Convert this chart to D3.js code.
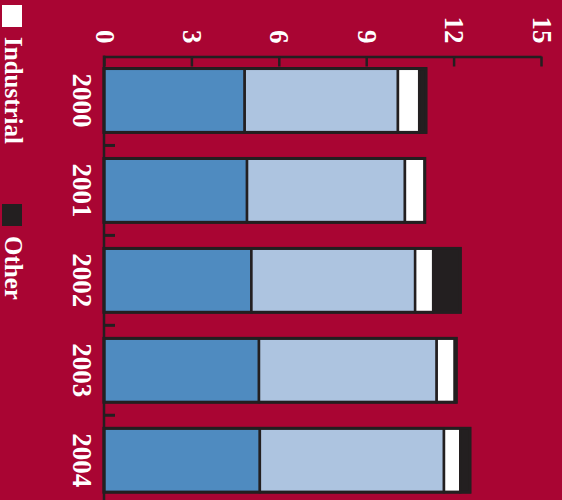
<!DOCTYPE html>
<html>
<head>
<meta charset="utf-8">
<script src="https://cdn.jsdelivr.net/npm/d3@7"></script>
<style>
  html, body { margin: 0; padding: 0; background: #a90533; }
  svg { display: block; }
</style>
</head>
<body>
<div id="chart"></div>
<script>
// data (chart is drawn turned a quarter turn clockwise)
const years = ['2000', '2001', '2002', '2003', '2004']
const seriesNames = ['Residential', 'Commercial', 'Industrial', 'Other']
const residential = [4.83, 4.91, 5.06, 5.32, 5.35]
const commercial = [5.26, 5.42, 5.62, 6.10, 6.32]
const industrial = [0.73, 0.68, 0.62, 0.62, 0.56]
const other = [0.23, 0.0, 0.93, 0.05, 0.33]
const xTicks = [0, 3, 6, 9, 12, 15]

const width = 562
const height = 500
const colors = {
    Residential: '#4f8bc0', Commercial: '#adc4e0',
    Industrial: '#ffffff', Other: '#231f20'
}
const dark = '#231f20'
const font = '"Liberation Serif", "Times New Roman", serif'

const rows = years.map((yr, i) => ({
    year: yr,
    Residential: residential[i],
    Commercial: commercial[i],
    Industrial: industrial[i],
    Other: other[i]
}))

const svg = d3.select('#chart').append('svg')
    .attr('width', width)
    .attr('height', height)

svg.append('rect')
    .attr('width', width).attr('height', height)
    .attr('fill', '#a90533')

const x = d3.scaleLinear().domain([0, 15]).range([104, 541])
const y = d3.scaleBand().domain(years)
    .range([55.5, 505.2])
    .paddingInner(0.29)
    .paddingOuter(0.145)

const stack = d3.stack().keys(seriesNames)(rows)

// bars
const layers = svg.append('g').selectAll('g')
    .data(stack)
    .enter().append('g')
    .attr('fill', d => colors[d.key])

layers.selectAll('rect')
    .data(d => d)
    .enter().append('rect')
    .attr('x', d => x(d[0]))
    .attr('y', d => y(d.data.year))
    .attr('width', d => x(d[1]) - x(d[0]))
    .attr('height', y.bandwidth())
    .attr('stroke', dark)
    .attr('stroke-width', 2.5)

// outline round each whole bar
svg.append('g').selectAll('rect')
    .data(rows)
    .enter().append('rect')
    .attr('x', x(0))
    .attr('y', d => y(d.year))
    .attr('width', d => x(d3.sum(seriesNames, k => d[k])) - x(0))
    .attr('height', y.bandwidth())
    .attr('fill', 'none')
    .attr('stroke', dark)
    .attr('stroke-width', 3)

// value axis along the top
const xAxis = svg.append('g')
    .attr('transform', 'translate(0,56.5)')
    .call(d3.axisTop(x).tickValues(xTicks).tickSizeInner(-10).tickSizeOuter(0))
xAxis.select('.domain').attr('stroke', dark).attr('stroke-width', 2.5)
xAxis.selectAll('.tick line').attr('stroke', dark).attr('stroke-width', 2.5)
xAxis.selectAll('.tick text')
    .attr('y', null).attr('dy', null)
    .attr('transform', 'translate(0,-13) rotate(90)')
    .attr('text-anchor', 'end')
    .attr('dominant-baseline', 'central')
    .attr('fill', '#fff')
    .style('font-family', font)
    .style('font-weight', 'bold')
    .style('font-size', '27px')

// category axis on the left, ticks between the bars
const step = y.step()
const gap = step - y.bandwidth()
svg.append('line')
    .attr('x1', x(0)).attr('x2', x(0))
    .attr('y1', 55.5).attr('y2', height)
    .attr('stroke', dark).attr('stroke-width', 2.5)

svg.append('g').selectAll('line')
    .data(years.slice(0, -1))
    .enter().append('line')
    .attr('x1', x(0)).attr('x2', x(0) + 11)
    .attr('y1', d => y(d) + y.bandwidth() + gap / 2)
    .attr('y2', d => y(d) + y.bandwidth() + gap / 2)
    .attr('stroke', dark).attr('stroke-width', 3)

svg.append('g').selectAll('text')
    .data(years)
    .enter().append('text')
    .attr('transform', d => `translate(73,${y(d) + y.bandwidth() / 2}) rotate(90)`)
    .attr('text-anchor', 'middle')
    .attr('fill', '#fff')
    .style('font-family', font)
    .style('font-weight', 'bold')
    .style('font-size', '27px')
    .text(d => d)

// legend (first entries fall above the visible area)
const legendStep = 199
const legendItems = seriesNames
    .map((name, i) => ({ name, top: 5 + (i - 2) * legendStep }))
    .filter(d => d.top >= 0)

const legend = svg.append('g').selectAll('g')
    .data(legendItems)
    .enter().append('g')

legend.append('rect')
    .attr('x', 2).attr('y', d => d.top)
    .attr('width', 20).attr('height', 22)
    .attr('fill', d => colors[d.name])

legend.append('text')
    .attr('transform', d => `translate(5,${d.top + 32}) rotate(90)`)
    .attr('fill', '#fff')
    .style('font-family', font)
    .style('font-weight', 'bold')
    .style('font-size', '25px')
    .text(d => d.name)
</script>
</body>
</html>
